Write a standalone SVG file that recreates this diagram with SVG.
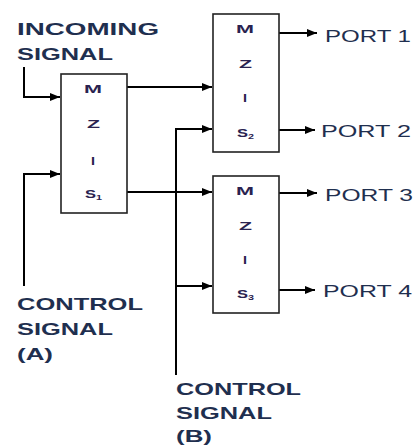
<svg xmlns="http://www.w3.org/2000/svg" width="417" height="447" viewBox="0 0 417 447">
<defs>
<marker id="ah" markerWidth="10" markerHeight="8" refX="10" refY="4" orient="auto" markerUnits="userSpaceOnUse">
<path d="M0,0 L10,4 L0,8 Z" fill="#000"/>
</marker>
<style>
.box{fill:#fff;stroke:#222;stroke-width:1.6}
.ln{fill:none;stroke:#000;stroke-width:2}
.lbl{font-family:"Liberation Sans",Arial,sans-serif;font-size:17px;font-weight:bold;fill:#1f2f4f}
.prt{font-family:"Liberation Sans",Arial,sans-serif;font-size:17px;fill:#1f2f4f}
.in{font-family:"Liberation Sans",Arial,sans-serif;font-size:11px;font-weight:bold;fill:#2a2250}
.sub{font-size:7px}
</style>
</defs>
<g id="connectors">
<path class="ln" d="M24,67 V97 H60" marker-end="url(#ah)"/>
<path class="ln" d="M24,286 V174 H60" marker-end="url(#ah)"/>
<path class="ln" d="M127,87 H212" marker-end="url(#ah)"/>
<path class="ln" d="M127,192 H212" marker-end="url(#ah)"/>
<path class="ln" d="M176,375 V129 H212" marker-end="url(#ah)"/>
<path class="ln" d="M176,286 H212" marker-end="url(#ah)"/>
<path class="ln" d="M279,33 H317" marker-end="url(#ah)"/>
<path class="ln" d="M279,130 H315" marker-end="url(#ah)"/>
<path class="ln" d="M279,193 H317" marker-end="url(#ah)"/>
<path class="ln" d="M279,290 H315" marker-end="url(#ah)"/>
</g>
<g id="mzis1">
<rect class="box" x="61" y="74" width="66" height="139"/>
<text class="in" x="84" y="93" textLength="18" lengthAdjust="spacingAndGlyphs">M</text>
<text class="in" x="87" y="128" textLength="13" lengthAdjust="spacingAndGlyphs">Z</text>
<text class="in" x="91" y="165" textLength="4" lengthAdjust="spacingAndGlyphs">I</text>
<text class="in" x="85" y="198" textLength="11" lengthAdjust="spacingAndGlyphs">S</text>
<text class="in sub" x="96" y="200" textLength="6" lengthAdjust="spacingAndGlyphs">1</text>
</g>
<g id="mzis2">
<rect class="box" x="213" y="14" width="66" height="138"/>
<text class="in" x="236" y="33" textLength="18" lengthAdjust="spacingAndGlyphs">M</text>
<text class="in" x="239" y="68" textLength="13" lengthAdjust="spacingAndGlyphs">Z</text>
<text class="in" x="243" y="102" textLength="4" lengthAdjust="spacingAndGlyphs">I</text>
<text class="in" x="237" y="137" textLength="11" lengthAdjust="spacingAndGlyphs">S</text>
<text class="in sub" x="248" y="139" textLength="6" lengthAdjust="spacingAndGlyphs">2</text>
</g>
<g id="mzis3">
<rect class="box" x="213" y="176" width="66" height="137"/>
<text class="in" x="236" y="195" textLength="18" lengthAdjust="spacingAndGlyphs">M</text>
<text class="in" x="239" y="230" textLength="13" lengthAdjust="spacingAndGlyphs">Z</text>
<text class="in" x="243" y="264" textLength="4" lengthAdjust="spacingAndGlyphs">I</text>
<text class="in" x="237" y="298" textLength="11" lengthAdjust="spacingAndGlyphs">S</text>
<text class="in sub" x="248" y="300" textLength="6" lengthAdjust="spacingAndGlyphs">3</text>
</g>
<g id="incoming">
<text class="lbl" x="17" y="35" textLength="142" lengthAdjust="spacingAndGlyphs">INCOMING</text>
<text class="lbl" x="17" y="60" textLength="96" lengthAdjust="spacingAndGlyphs">SIGNAL</text>
</g>
<g id="controlA">
<text class="lbl" x="17" y="310" textLength="126" lengthAdjust="spacingAndGlyphs">CONTROL</text>
<text class="lbl" x="17" y="335" textLength="96" lengthAdjust="spacingAndGlyphs">SIGNAL</text>
<text class="lbl" x="17" y="360" textLength="36" lengthAdjust="spacingAndGlyphs">(A)</text>
</g>
<g id="controlB">
<text class="lbl" x="176" y="395" textLength="125" lengthAdjust="spacingAndGlyphs">CONTROL</text>
<text class="lbl" x="176" y="419" textLength="96" lengthAdjust="spacingAndGlyphs">SIGNAL</text>
<text class="lbl" x="176" y="442" textLength="36" lengthAdjust="spacingAndGlyphs">(B)</text>
</g>
<g id="ports">
<text class="prt" x="325" y="42" textLength="86" lengthAdjust="spacingAndGlyphs">PORT 1</text>
<text class="prt" x="321" y="137" textLength="90" lengthAdjust="spacingAndGlyphs">PORT 2</text>
<text class="prt" x="325" y="201" textLength="88" lengthAdjust="spacingAndGlyphs">PORT 3</text>
<text class="prt" x="323" y="297" textLength="89" lengthAdjust="spacingAndGlyphs">PORT 4</text>
</g>
</svg>
